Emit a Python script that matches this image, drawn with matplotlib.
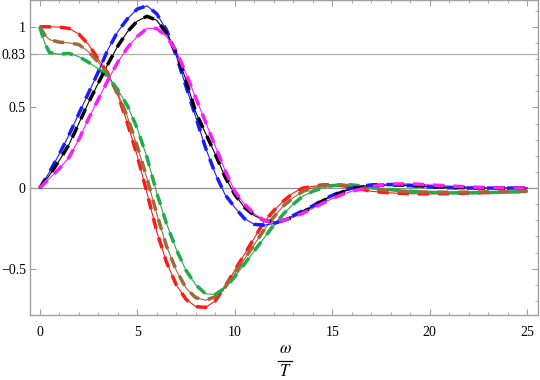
import matplotlib
matplotlib.use("Agg")
import matplotlib.pyplot as plt
from matplotlib.ticker import MultipleLocator, FixedLocator, FixedFormatter
from matplotlib.lines import Line2D

omega = [0, 0.25, 0.5, 1, 1.5, 2, 2.5, 3, 3.5, 4, 4.5, 5, 5.5, 6, 6.5, 7, 7.5, 8, 8.5,
         9, 9.5, 10, 10.5, 11, 11.5, 12, 12.5, 13, 13.5, 14, 14.5, 15, 15.5, 16,
         17, 18, 19, 20, 21, 22, 23, 24, 25]

red = [1.0, 1.0, 1.0, 0.998, 0.99, 0.955, 0.89, 0.80, 0.71, 0.58, 0.40, 0.20, -0.03,
       -0.27, -0.46, -0.60, -0.69, -0.735, -0.74, -0.70, -0.61, -0.51, -0.41, -0.31,
       -0.21, -0.14, -0.08, -0.03, 0.0, 0.01, 0.02, 0.02, 0.015, 0.005,
       -0.02, -0.03, -0.035, -0.036, -0.034, -0.031, -0.028, -0.024, -0.02]

brown = [1.0, 0.95, 0.92, 0.905, 0.90, 0.89, 0.845, 0.78, 0.70, 0.59, 0.44, 0.26, 0.06,
         -0.16, -0.36, -0.51, -0.62, -0.68, -0.695, -0.675, -0.615, -0.53, -0.44, -0.35,
         -0.26, -0.18, -0.11, -0.06, -0.02, 0.0, 0.015, 0.02, 0.02, 0.012,
         -0.005, -0.015, -0.022, -0.025, -0.026, -0.025, -0.023, -0.02, -0.018]

green = [1.0, 0.90, 0.84, 0.83, 0.835, 0.815, 0.78, 0.74, 0.69, 0.61, 0.51, 0.37, 0.19,
         -0.03, -0.22, -0.38, -0.51, -0.60, -0.655, -0.66, -0.62, -0.55, -0.47, -0.39,
         -0.31, -0.23, -0.16, -0.10, -0.05, -0.02, 0.0, 0.015, 0.02, 0.02,
         0.005, -0.01, -0.02, -0.027, -0.03, -0.03, -0.028, -0.025, -0.022]

blue = [0.0, 0.05, 0.10, 0.21, 0.33, 0.46, 0.59, 0.72, 0.86, 0.97, 1.05, 1.11, 1.13,
        1.08, 0.98, 0.82, 0.63, 0.44, 0.25, 0.09, -0.04, -0.12, -0.19, -0.225,
        -0.23, -0.22, -0.20, -0.17, -0.14, -0.11, -0.075, -0.045, -0.02, 0.0,
        0.02, 0.022, 0.015, 0.007, 0.002, 0.0, 0.0, 0.0, 0.0]

black = [0.0, 0.04, 0.08, 0.17, 0.27, 0.40, 0.53, 0.65, 0.77, 0.88, 0.97, 1.035, 1.065,
         1.04, 0.96, 0.84, 0.67, 0.47, 0.34, 0.21, 0.07, -0.04, -0.12, -0.17,
         -0.20, -0.21, -0.20, -0.18, -0.15, -0.115, -0.08, -0.05, -0.025, -0.005,
         0.015, 0.02, 0.017, 0.01, 0.005, 0.002, 0.0, 0.0, 0.0]

magenta = [0.0, 0.03, 0.06, 0.12, 0.19, 0.30, 0.43, 0.55, 0.67, 0.78, 0.87, 0.94, 0.99,
           0.99, 0.94, 0.85, 0.71, 0.56, 0.41, 0.26, 0.11, -0.02, -0.10, -0.16,
           -0.20, -0.21, -0.20, -0.18, -0.155, -0.125, -0.095, -0.065, -0.04, -0.02,
           0.01, 0.025, 0.026, 0.02, 0.013, 0.007, 0.003, 0.0, 0.0]

series = [
    (red, "#ff1a1a"),
    (brown, "#9e6a38"),
    (green, "#22aa4c"),
    (blue, "#1a1aff"),
    (black, "#000000"),
    (magenta, "#ff1aff"),
]

y_ticks = [-0.5, 0, 0.5, 0.83, 1]
y_labels = ["\u22120.5", "0", "0.5", "0.83", "1"]
x_ticks = [0, 5, 10, 15, 20, 25]

plt.rcParams["font.family"] = ["Liberation Serif", "DejaVu Serif"]
plt.rcParams["mathtext.fontset"] = "stix"

fig = plt.figure(figsize=(5.4, 3.8), dpi=100)
ax = fig.add_axes([30/540, 65/380, 508/540, 315/380])

frame_col = "#a0a0a0"
ax.axhline(0, color="#909090", lw=0.9, zorder=1)
ax.axhline(0.83, color="#b0b0b0", lw=0.9, zorder=1)

for vals, col in series:
    ax.plot(omega, vals, color=col, lw=0.8, zorder=2, solid_capstyle="round")
    ax.plot(omega, vals, color=col, lw=2.5, zorder=3, dashes=(3.2, 2.6))

ax.set_xlim(-0.5, 25.55)
ax.set_ylim(-0.787, 1.166)

for s in ax.spines.values():
    s.set_color(frame_col)
    s.set_linewidth(1.0)

ax.xaxis.set_major_locator(FixedLocator(x_ticks))
ax.xaxis.set_minor_locator(MultipleLocator(1))
ax.yaxis.set_major_locator(FixedLocator(y_ticks))
ax.yaxis.set_major_formatter(FixedFormatter(y_labels))
ax.tick_params(axis="both", which="both", direction="in", color=frame_col,
               labelsize=10, labelcolor="black")
ax.tick_params(axis="x", which="major", length=4, width=0.8, top=True, pad=8)
ax.tick_params(axis="x", which="minor", length=2.2, width=0.6, top=True)
ax.tick_params(axis="y", which="major", length=4, width=0.8, pad=3)

# right side ticks every 0.1
rax = ax.twinx()
rax.set_ylim(ax.get_ylim())
rax.yaxis.set_major_locator(MultipleLocator(0.5))
rax.yaxis.set_minor_locator(MultipleLocator(0.1))
rax.tick_params(axis="y", which="both", direction="in", color=frame_col, labelright=False)
rax.tick_params(axis="y", which="major", length=4, width=0.8)
rax.tick_params(axis="y", which="minor", length=2.2, width=0.6)
for s in rax.spines.values():
    s.set_visible(False)

# axis label as a stacked fraction omega / T
cx = 285/540
fig.text(cx, 1 - 349/380, r"$\omega$", ha="center", va="center", fontsize=12)
fig.add_artist(Line2D([278/540, 292/540], [1 - 361/380, 1 - 361/380],
                      color="black", lw=0.9, transform=fig.transFigure))
fig.text(cx, 1 - 372/380, r"$T$", ha="center", va="center", fontsize=12)

fig.savefig("out.png", dpi=100)
